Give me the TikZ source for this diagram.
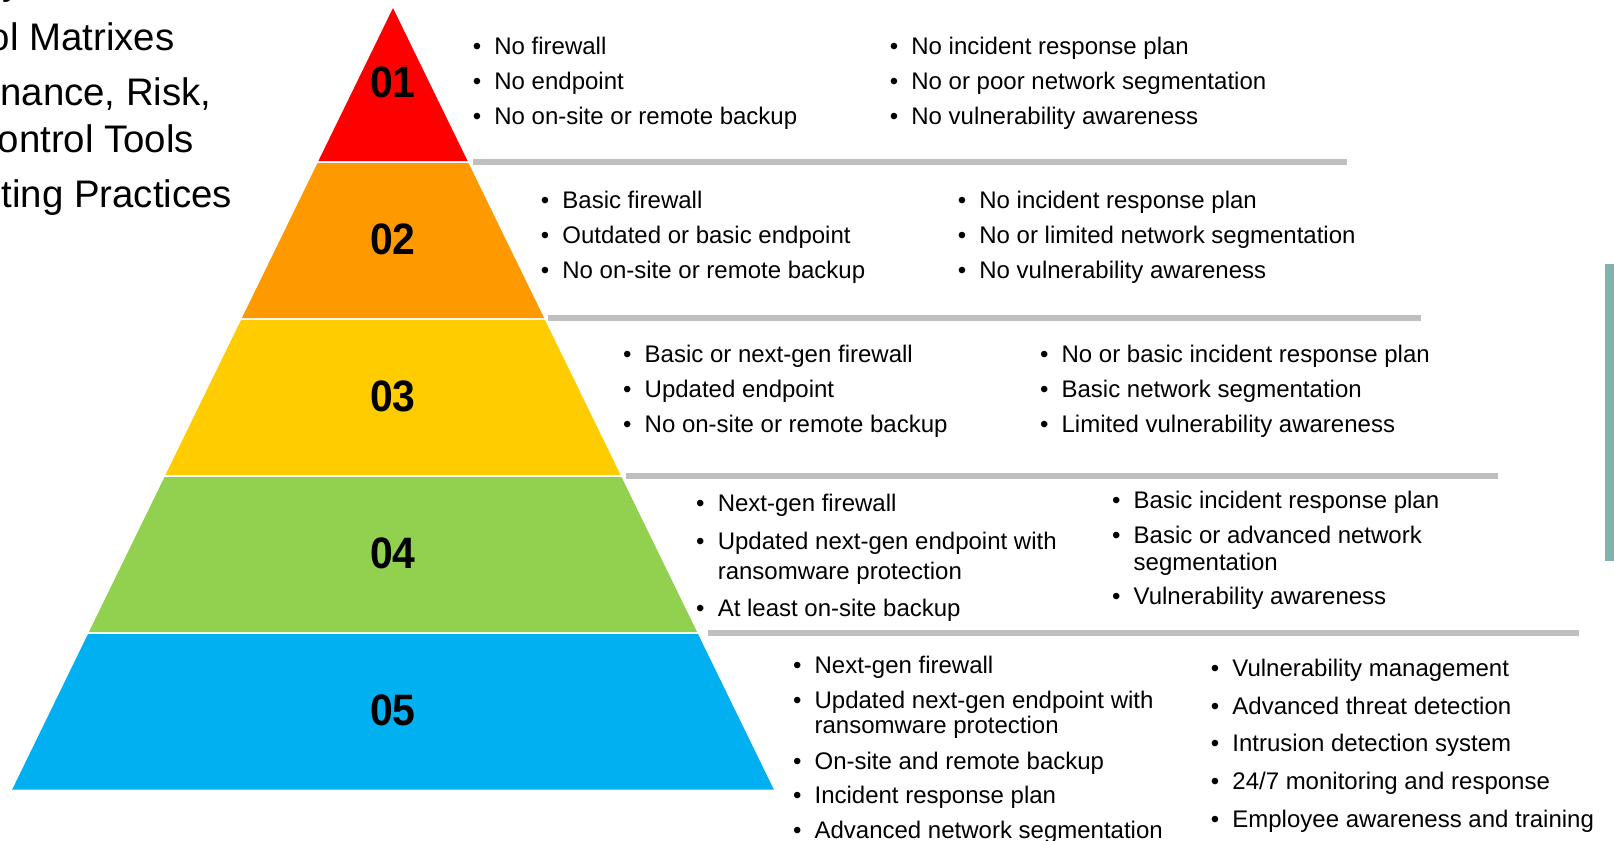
\documentclass[tikz,border=0pt]{standalone}
\usepackage{fontspec}
\setmainfont{Liberation Sans}
\definecolor{cRed}{HTML}{FF0000}
\definecolor{cOrange}{HTML}{FF9900}
\definecolor{cYellow}{HTML}{FFCC00}
\definecolor{cGreen}{HTML}{92D050}
\definecolor{cBlue}{HTML}{00B0F0}
\definecolor{ruleGray}{HTML}{BFBFBF}
\definecolor{barTeal}{HTML}{80B2AE}
\newcommand\bul{\makebox[0pt][r]{\textbullet\hspace{6.6pt}}}
\begin{document}
\begin{tikzpicture}[x=0.5pt,y=-0.5pt,
  itemtext/.style={anchor=base west, inner sep=0pt, font=\fontsize{12}{15}\selectfont},
  bigtext/.style={anchor=base east, inner sep=0pt, font=\fontsize{19.2}{23}\selectfont},
  numtext/.style={inner sep=0pt, font=\fontsize{22}{26}\selectfont\bfseries},
  seprule/.style={draw=ruleGray, line width=3pt}]
\useasboundingbox (0,0) rectangle (1614,841);

% pyramid tiers
\fill[cRed] (393,8) -- (467.6,161) -- (318.4,161) -- cycle;
\fill[cOrange] (317.5,163) -- (468.5,163) -- (544.1,318) -- (241.9,318) -- cycle;
\fill[cYellow] (241.0,320) -- (545.0,320) -- (620.6,475) -- (165.4,475) -- cycle;
\fill[cGreen] (164.5,477) -- (621.5,477) -- (697.1,632) -- (88.9,632) -- cycle;
\fill[cBlue] (88.0,634) -- (698.0,634) -- (773.8,789.5) -- (12.2,789.5) -- cycle;

\node[numtext] (n1) at (393,82) {\scalebox{0.93}[1]{01}};
\node[numtext] (n2) at (393,239) {\scalebox{0.93}[1]{02}};
\node[numtext] (n3) at (393,396) {\scalebox{0.93}[1]{03}};
\node[numtext] (n4) at (393,553) {\scalebox{0.93}[1]{04}};
\node[numtext] (n5) at (393,710) {\scalebox{0.93}[1]{05}};

% separator rules
\draw[seprule] (473,161.7) -- (1346.7,161.7);
\draw[seprule] (547.6,318) -- (1420.7,318);
\draw[seprule] (626,475.5) -- (1498,475.5);
\draw[seprule] (708,633) -- (1579,633);

% teal bar
\fill[barTeal] (1605,264) rectangle (1614,561);

% left cut-off text
\node[bigtext] (l0) at (22,-5.3) {y};
\node[bigtext] (l1) at (175,50) {ol Matrixes};
\node[bigtext] (l2) at (212,105) {nance, Risk,};
\node[bigtext] (l3) at (194.5,152) {ontrol Tools};
\node[bigtext] (l4) at (232.6,207) {ting Practices};

% tier 1
\node[itemtext] (a1) at (494,54.3) {\bul No firewall};
\node[itemtext] (a2) at (494,89.3) {\bul No endpoint};
\node[itemtext] (a3) at (494,124.3) {\bul No on-site or remote backup};
\node[itemtext] (a4) at (911,54.3) {\bul No incident response plan};
\node[itemtext] (a5) at (911,89.3) {\bul No or poor network segmentation};
\node[itemtext] (a6) at (911,124.3) {\bul No vulnerability awareness};

% tier 2
\node[itemtext] (b1) at (562,208.7) {\bul Basic firewall};
\node[itemtext] (b2) at (562,243.7) {\bul Outdated or basic endpoint};
\node[itemtext] (b3) at (562,278.7) {\bul No on-site or remote backup};
\node[itemtext] (b4) at (979,208.7) {\bul No incident response plan};
\node[itemtext] (b5) at (979,243.7) {\bul No or limited network segmentation};
\node[itemtext] (b6) at (979,278.7) {\bul No vulnerability awareness};

% tier 3
\node[itemtext] (c1) at (644.3,362) {\bul Basic or next-gen firewall};
\node[itemtext] (c2) at (644.3,397) {\bul Updated endpoint};
\node[itemtext] (c3) at (644.3,432) {\bul No on-site or remote backup};
\node[itemtext] (c4) at (1061.2,362) {\bul No or basic incident response plan};
\node[itemtext] (c5) at (1061.2,397) {\bul Basic network segmentation};
\node[itemtext] (c6) at (1061.2,432) {\bul Limited vulnerability awareness};

% tier 4
\node[itemtext] (d1) at (717.4,511) {\bul Next-gen firewall};
\node[itemtext] (d2) at (717.4,549.5) {\bul Updated next-gen endpoint with};
\node[itemtext] (d2b) at (717.4,579) {ransomware protection};
\node[itemtext] (d3) at (717.4,616) {\bul At least on-site backup};
\node[itemtext] (d4) at (1133.3,508) {\bul Basic incident response plan};
\node[itemtext] (d5) at (1133.3,543) {\bul Basic or advanced network};
\node[itemtext] (d5b) at (1133.3,570) {segmentation};
\node[itemtext] (d6) at (1133.3,604) {\bul Vulnerability awareness};

% tier 5
\node[itemtext] (e1) at (814.2,673) {\bul Next-gen firewall};
\node[itemtext] (e2) at (814.2,708) {\bul Updated next-gen endpoint with};
\node[itemtext] (e2b) at (814.2,733.5) {ransomware protection};
\node[itemtext] (e3) at (814.2,769) {\bul On-site and remote backup};
\node[itemtext] (e4) at (814.2,803.5) {\bul Incident response plan};
\node[itemtext] (e5) at (814.2,838.5) {\bul Advanced network segmentation};
\node[itemtext] (e6) at (1232,676) {\bul Vulnerability management};
\node[itemtext] (e7) at (1232,714) {\bul Advanced threat detection};
\node[itemtext] (e8) at (1232,751) {\bul Intrusion detection system};
\node[itemtext] (e9) at (1232,789) {\bul 24/7 monitoring and response};
\node[itemtext] (e10) at (1232,827) {\bul Employee awareness and training};
\end{tikzpicture}
\end{document}
